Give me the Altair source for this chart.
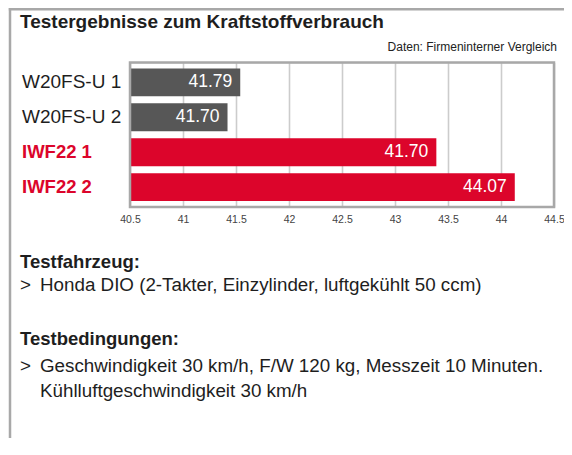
import altair as alt
import pandas as pd

# ---- data ----
categories = ["W20FS-U 1", "W20FS-U 2", "IWF22 1", "IWF22 2"]
groups = ["W20FS-U", "W20FS-U", "IWF22", "IWF22"]
bar_ends = [41.54, 41.42, 43.39, 44.13]          # drawn bar lengths (axis units)
value_labels = ["41.79", "41.70", "41.70", "44.07"]  # printed values
x_ticks = [40.5, 41, 41.5, 42, 42.5, 43, 43.5, 44, 44.5]

title_text = "Testergebnisse zum Kraftstoffverbrauch"
source_text = "Daten: Firmeninterner Vergleich"
heading1 = "Testfahrzeug:"
body1 = "Honda DIO (2-Takter, Einzylinder, luftgekühlt 50 ccm)"
heading2 = "Testbedingungen:"
body2a = "Geschwindigkeit 30 km/h, F/W 120 kg, Messzeit 10 Minuten."
body2b = "Kühlluftgeschwindigkeit 30 km/h"
bullet = ">"

# ---- styling ----
W = 424
H = 144.5
PAD = {"left": 122, "top": 54.5, "right": 10, "bottom": 231}
RED = "#dc052b"
GRAY = "#575757"
FRAME = "#a8a8a8"
INK = "#1e1e1e"
FONT = "Liberation Sans"

df = pd.DataFrame({"cat": categories, "group": groups, "end": bar_ends, "label": value_labels})
one = pd.DataFrame({"k": [0]})

xscale = alt.Scale(domain=[x_ticks[0], x_ticks[-1]], zero=False, nice=False)
yscale = alt.Scale(domain=categories, paddingInner=0.2, paddingOuter=0.17)

base = alt.Chart(df).encode(y=alt.Y("cat:N", scale=yscale, axis=None, sort=categories))

bars = base.mark_bar().encode(
    x=alt.X(
        "end:Q",
        scale=xscale,
        axis=alt.Axis(
            values=x_ticks, format="~g", grid=True, gridColor="#cccccc", gridWidth=1.6,
            ticks=False, tickSize=0, domain=False, labelFontSize=10.5,
            labelColor="#444444", labelPadding=7, labelFlush=False,
            labelOverlap=False, title=None,
        ),
    ),
    x2=alt.datum(x_ticks[0]),
    color=alt.Color(
        "group:N",
        scale=alt.Scale(domain=["W20FS-U", "IWF22"], range=[GRAY, RED]),
        legend=None,
    ),
)

value_text = base.mark_text(
    align="right", baseline="middle", dx=-8, fontSize=17.5, color="white"
).encode(x=alt.X("end:Q", scale=xscale), text="label:N")

ylab_plain = base.mark_text(
    align="left", baseline="middle", fontSize=19, color=INK
).encode(x=alt.value(-108), text="cat:N").transform_filter(alt.datum.group == "W20FS-U")

ylab_bold = base.mark_text(
    align="left", baseline="middle", fontSize=18.5, fontWeight="bold", color=RED
).encode(x=alt.value(-108), text="cat:N").transform_filter(alt.datum.group == "IWF22")

frame = alt.Chart(one).mark_rect(
    fillOpacity=0, stroke=FRAME, strokeWidth=2.5
).encode(x=alt.value(0), x2=alt.value(W), y=alt.value(0), y2=alt.value(H))

left_line = alt.Chart(one).mark_rule(color=FRAME, strokeWidth=2.5).encode(
    x=alt.value(-120), y=alt.value(-54.5), y2=alt.value(H + PAD["bottom"])
)
top_line = alt.Chart(one).mark_rule(color=FRAME, strokeWidth=2.5).encode(
    x=alt.value(-121.2), x2=alt.value(W + PAD["right"]), y=alt.value(-53.2)
)


def txt(s, x, y, **kw):
    return alt.Chart(pd.DataFrame({"t": [s]})).mark_text(baseline="alphabetic", **kw).encode(
        text="t:N", x=alt.value(x), y=alt.value(y)
    )


BODY = 18.8
texts = [
    txt(title_text, -110, -34.5, align="left", fontSize=19, fontWeight="bold", color=INK),
    txt(source_text, W + 3, -11.5, align="right", fontSize=12, color="#222222"),
    txt(heading1, -110, 205, align="left", fontSize=18.5, fontWeight="bold", color=INK),
    txt(bullet, -110, 228, align="left", fontSize=BODY, color=INK),
    txt(body1, -90, 228, align="left", fontSize=BODY, color=INK),
    txt(heading2, -110, 282, align="left", fontSize=18.5, fontWeight="bold", color=INK),
    txt(bullet, -110, 309, align="left", fontSize=BODY, color=INK),
    txt(body2a, -90, 309, align="left", fontSize=BODY, color=INK),
    txt(body2b, -90, 334.5, align="left", fontSize=BODY, color=INK),
]

chart = alt.layer(
    bars, value_text, ylab_plain, ylab_bold, frame, left_line, top_line, *texts
).properties(
    width=W,
    height=H,
    autosize=alt.AutoSizeParams(type="none"),
    padding=PAD,
).configure_view(stroke=None).configure(font=FONT)

chart.save("out.html", embed_options={"renderer": "svg", "actions": False})
